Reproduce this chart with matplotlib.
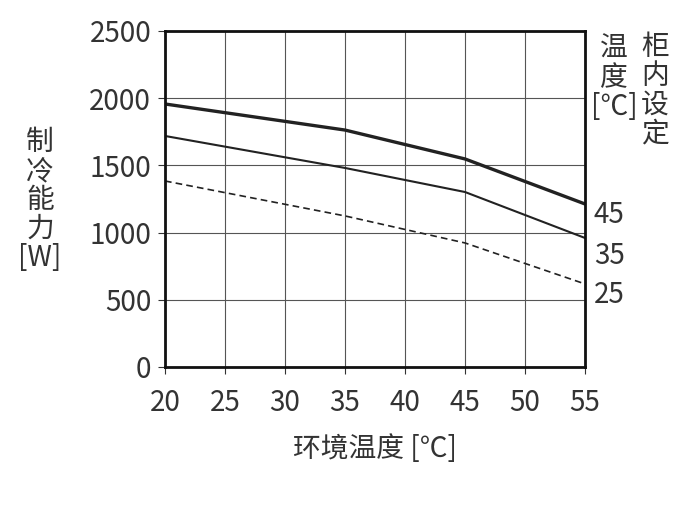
import matplotlib
matplotlib.use("Agg")
import matplotlib.pyplot as plt

plt.rcParams['font.family'] = ['Noto Sans CJK SC', 'DejaVu Sans']

x = [20, 35, 45, 55]
cap45 = [1957, 1763, 1548, 1213]
cap35 = [1719, 1481, 1302, 960]
cap25 = [1384, 1124, 923, 618]
xticks = [20, 25, 30, 35, 40, 45, 50, 55]
yticks = [0, 500, 1000, 1500, 2000, 2500]
tc = '#333333'
fs = 20

fig = plt.figure(figsize=(7, 5.09), dpi=100)
ax = fig.add_axes([165/700, 1-367/509, 420/700, 336/509])
ax.plot(x, cap45, color='#222222', lw=2.4)
ax.plot(x, cap35, color='#222222', lw=1.5)
ax.plot(x, cap25, color='#222222', lw=1.2, ls=(0, (4, 2.5)))
ax.set_xlim(20, 55)
ax.set_ylim(0, 2500)
ax.set_xticks(xticks)
ax.set_yticks(yticks)
ax.grid(True, color='#555555', lw=0.8)
for s in ax.spines.values():
    s.set_linewidth(2)
    s.set_color('#111111')
ax.tick_params(labelsize=fs, colors=tc, length=5, pad=5)
ax.tick_params(axis='x', pad=10)
for lbl in ax.get_xticklabels() + ax.get_yticklabels():
    lbl.set_color(tc)

ax.set_xlabel('环境温度 [℃]', fontsize=fs, color=tc, labelpad=12)
fig.text(40/700, 1-200/509, '制\n冷\n能\n力\n[W]', fontsize=fs, color=tc,
         ha='center', va='center', linespacing=0.95)
fig.text(655/700, 1-90/509, '柜\n内\n设\n定', fontsize=fs, color=tc,
         ha='center', va='center', linespacing=0.95)
fig.text(614/700, 1-78/509, '温\n度\n[℃]', fontsize=fs, color=tc,
         ha='center', va='center', linespacing=0.95)
for lab, yy in [('45', 215), ('35', 256), ('25', 295)]:
    fig.text(594/700, 1-yy/509, lab, fontsize=fs, color=tc, ha='left', va='center')

fig.savefig('out.png', dpi=100)
